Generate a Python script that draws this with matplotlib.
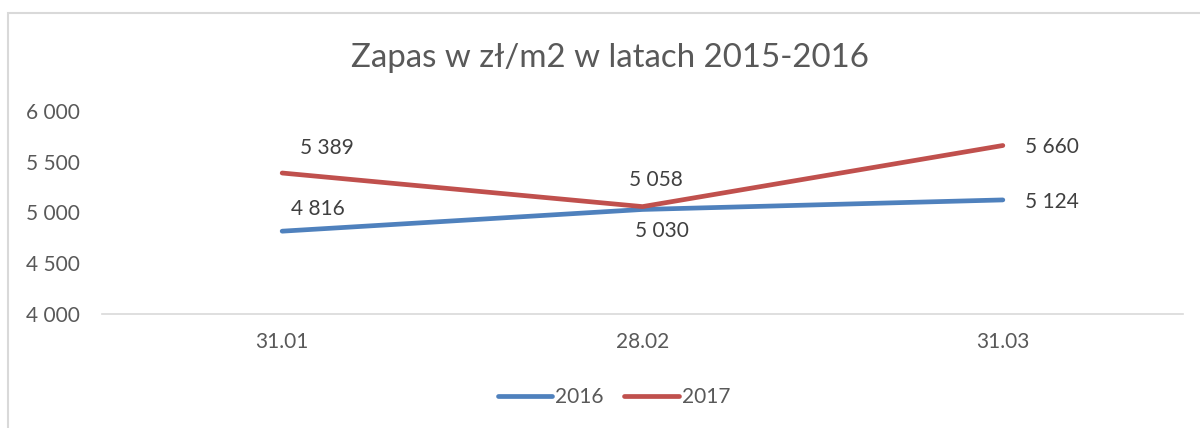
import matplotlib.pyplot as plt
from matplotlib.patches import Rectangle
from matplotlib.ticker import FuncFormatter

# dane
categories = ["31.01", "28.02", "31.03"]
series_names = ["2016", "2017"]
values_2016 = [4816, 5030, 5124]
values_2017 = [5389, 5058, 5660]
y_ticks = [4000, 4500, 5000, 5500, 6000]
title = "Zapas w zł/m2 w latach 2015-2016"

plt.rcParams['font.family'] = ['Lato', 'DejaVu Sans']
TXT = '#595959'
colors = ['#4F81BD', '#C0504D']

fig = plt.figure(figsize=(12, 4.28), dpi=100)
ax = fig.add_axes([102 / 1200, 1 - 314 / 428, 1081 / 1200, 203 / 428])

# ramka wykresu (wychodzi poza kadr z prawej i z dolu)
fig.patches.append(Rectangle((8 / 1200, -0.05), 1.2, (428 - 13) / 428 + 0.05,
                             transform=fig.transFigure, fill=False,
                             edgecolor='#D9D9D9', linewidth=1.5))

x = list(range(len(categories)))
lines = []
for vals, col, name in zip([values_2016, values_2017], colors, series_names):
    ln, = ax.plot(x, vals, color=col, linewidth=3.4, solid_capstyle='round', label=name)
    lines.append(ln)

# przesuniecia etykiet danych w pikselach (dx, dy; dy w gore)
offsets_2016 = [(36, 22), (19, -22), (49, -2)]
offsets_2017 = [(45, 25), (13, 27), (49, -1)]
for vals, offs in [(values_2016, offsets_2016), (values_2017, offsets_2017)]:
    for xi, v, (dx, dy) in zip(x, vals, offs):
        ax.annotate(f"{v:,}".replace(",", " "), (xi, v), xytext=(dx * 0.72, dy * 0.72),
                    textcoords='offset points', ha='center', va='center',
                    fontsize=15, color='#404040')

ax.set_xlim(-0.5, 2.5)
ax.set_ylim(4000, 6000)
ax.set_yticks(y_ticks)
ax.yaxis.set_major_formatter(FuncFormatter(lambda v, p: f"{int(v):,}".replace(",", " ")))
ax.set_xticks(x)
ax.set_xticklabels(categories)
ax.tick_params(axis='both', length=0, labelsize=15, colors=TXT)
ax.tick_params(axis='x', pad=13)
for s in ['top', 'right', 'left']:
    ax.spines[s].set_visible(False)
ax.spines['bottom'].set_color('#D9D9D9')
ax.spines['bottom'].set_linewidth(1.2)
for lbl in ax.get_yticklabels():
    lbl.set_horizontalalignment('left')
ax.tick_params(axis='y', pad=55)

fig.text(610 / 1200, 1 - 58 / 428, title, ha='center', va='center', fontsize=23.8, color=TXT)

fig.legend(lines, series_names, loc='center', bbox_to_anchor=(614 / 1200, 1 - 397 / 428),
           ncol=2, frameon=False, fontsize=15, handlelength=2.6, handletextpad=0.15,
           columnspacing=1.0, labelcolor=TXT)

fig.savefig("out.png", dpi=100)
